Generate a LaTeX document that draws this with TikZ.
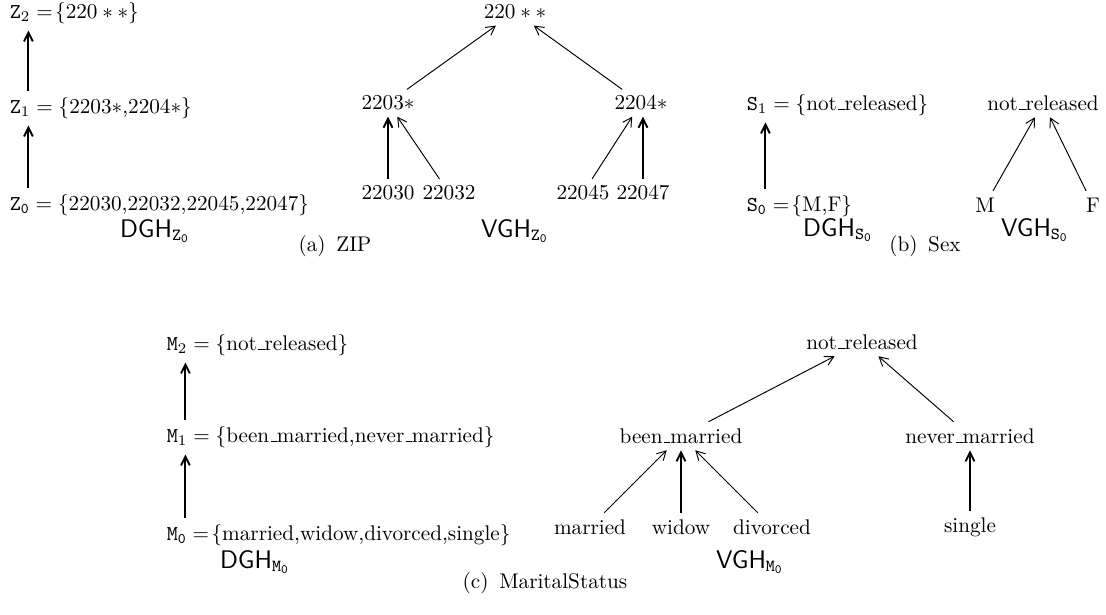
\documentclass[tikz,border=0pt]{standalone}
\usepackage{tikz}
\usetikzlibrary{calc,arrows.meta}
\newcommand{\us}{\leavevmode\kern.06em\vbox{\hrule width.3em height 0.5pt}}
\begin{document}
\begin{tikzpicture}[x=0.4717pt,y=-0.4717pt,
  lbl/.style={inner sep=3pt},
  dgh/.style={anchor=west,inner sep=3pt},
  big/.style={font=\sffamily\large,inner sep=0pt},
  captxt/.style={inner sep=0pt},
  arr/.style={-{Straight Barb[length=4.2pt,width=4.6pt]},line width=0.45pt},
  varr/.style={-{Straight Barb[length=4.2pt,width=4.2pt]},line width=0.9pt}]
\useasboundingbox (0,0) rectangle (1106,615);

% ---------- (a) ZIP : DGH ----------
\node[dgh] (z2) at (3,13) {$\mathtt{Z}_2 =\!\{220\ast\ast\}$};
\node[dgh] (z1) at (3,108) {$\mathtt{Z}_1 = \{\mbox{2203$\ast$,2204$\ast$}\}$};
\node[dgh] (z0) at (3,205) {$\mathtt{Z}_{\mathtt{0}} = \{\mbox{22030,22032,22045,22047}\}$};
\node[big] (dghz) at (155,231) {DGH$_{\mathtt{Z}_{\mathtt{0}}}$};
\draw[varr] ([xshift=12pt]z0.north west) -- ([xshift=12pt]z1.south west);
\draw[varr] ([xshift=12pt]z1.north west) -- ([xshift=12pt]z2.south west);

% ---------- (a) ZIP : VGH ----------
\node[lbl] (zt) at (515,12) {$220\ast\ast$};
\node[lbl] (z3) at (388,103) {$2203{\ast}$};
\node[lbl] (z4) at (641,103) {$2204{\ast}$};
\node[lbl] (l30) at (388,193) {22030};
\node[lbl] (l32) at (449,193) {22032};
\node[lbl] (l45) at (583,193) {22045};
\node[lbl] (l47) at (643,193) {22047};
\node[big] (vghz) at (515,231) {VGH$_{\mathtt{Z}_{\mathtt{0}}}$};
\draw[arr] (z3) -- (zt);
\draw[arr] (z4) -- (zt);
\draw[varr] (l30.north) -- (l30.north |- z3.south);
\draw[arr] (l32) -- (z3);
\draw[arr] (l45) -- (z4);
\draw[varr] (l47.north) -- (l47.north |- z4.south);
\node[captxt] (capa) at (335,246) {(a)\enspace ZIP};

% ---------- (b) Sex ----------
\node[dgh] (s1) at (740,105) {$\mathtt{S}_1 = \{\mbox{not\us released}\}$};
\node[dgh] (s0) at (740,206) {$\mathtt{S}_{\mathtt{0}} =\!\{\mbox{M,F}\}$};
\node[big] (dghs) at (838,230) {DGH$_{\mathtt{S}_{\mathtt{0}}}$};
\draw[varr] ([xshift=12pt]s0.north west) -- ([xshift=12pt]s1.south west);
\node[lbl] (nr) at (1043,103) {not\us released};
\node[lbl] (sm) at (985,205) {M};
\node[lbl] (sf) at (1093,205) {F};
\node[big] (vghs) at (1035,230) {VGH$_{\mathtt{S}_{\mathtt{0}}}$};
\draw[arr] (sm) -- (nr);
\draw[arr] (sf) -- (nr);
\node[captxt] (capb) at (925,246) {(b)\enspace Sex};

% ---------- (c) MaritalStatus ----------
\node[dgh] (m2) at (160,345) {$\mathtt{M}_2 = \{\mbox{not\us released}\}$};
\node[dgh] (m1) at (160,437) {$\mathtt{M}_1 = \{\mbox{been\us married,never\us married}\}$};
\node[dgh] (m0) at (160,535) {$\mathtt{M}_{\mathtt{0}} =\!\{\mbox{married,widow,divorced,single}\}$};
\node[big] (dghm) at (255,562) {DGH$_{\mathtt{M}_{\mathtt{0}}}$};
\draw[varr] ([xshift=12pt]m0.north west) -- ([xshift=12pt]m1.south west);
\draw[varr] ([xshift=12pt]m1.north west) -- ([xshift=12pt]m2.south west);

\node[lbl] (mnr) at (862,342) {not\us released};
\node[lbl] (bm) at (681,436) {been\us married};
\node[lbl] (nm) at (970,436) {never\us married};
\node[lbl] (mar) at (590,527) {married};
\node[lbl] (wid) at (681,527) {widow};
\node[lbl] (div) at (772,527) {divorced};
\node[lbl] (sgl) at (970,527) {single};
\node[big] (vghm) at (750,562) {VGH$_{\mathtt{M}_{\mathtt{0}}}$};
\draw[arr] (bm) -- (mnr);
\draw[arr] (nm) -- (mnr);
\draw[arr] (mar) -- (bm);
\draw[varr] (wid) -- (bm);
\draw[arr] (div) -- (bm);
\draw[varr] (sgl) -- (nm);
\node[captxt] (capc) at (545,583) {(c)\enspace MaritalStatus};
\end{tikzpicture}
\end{document}
